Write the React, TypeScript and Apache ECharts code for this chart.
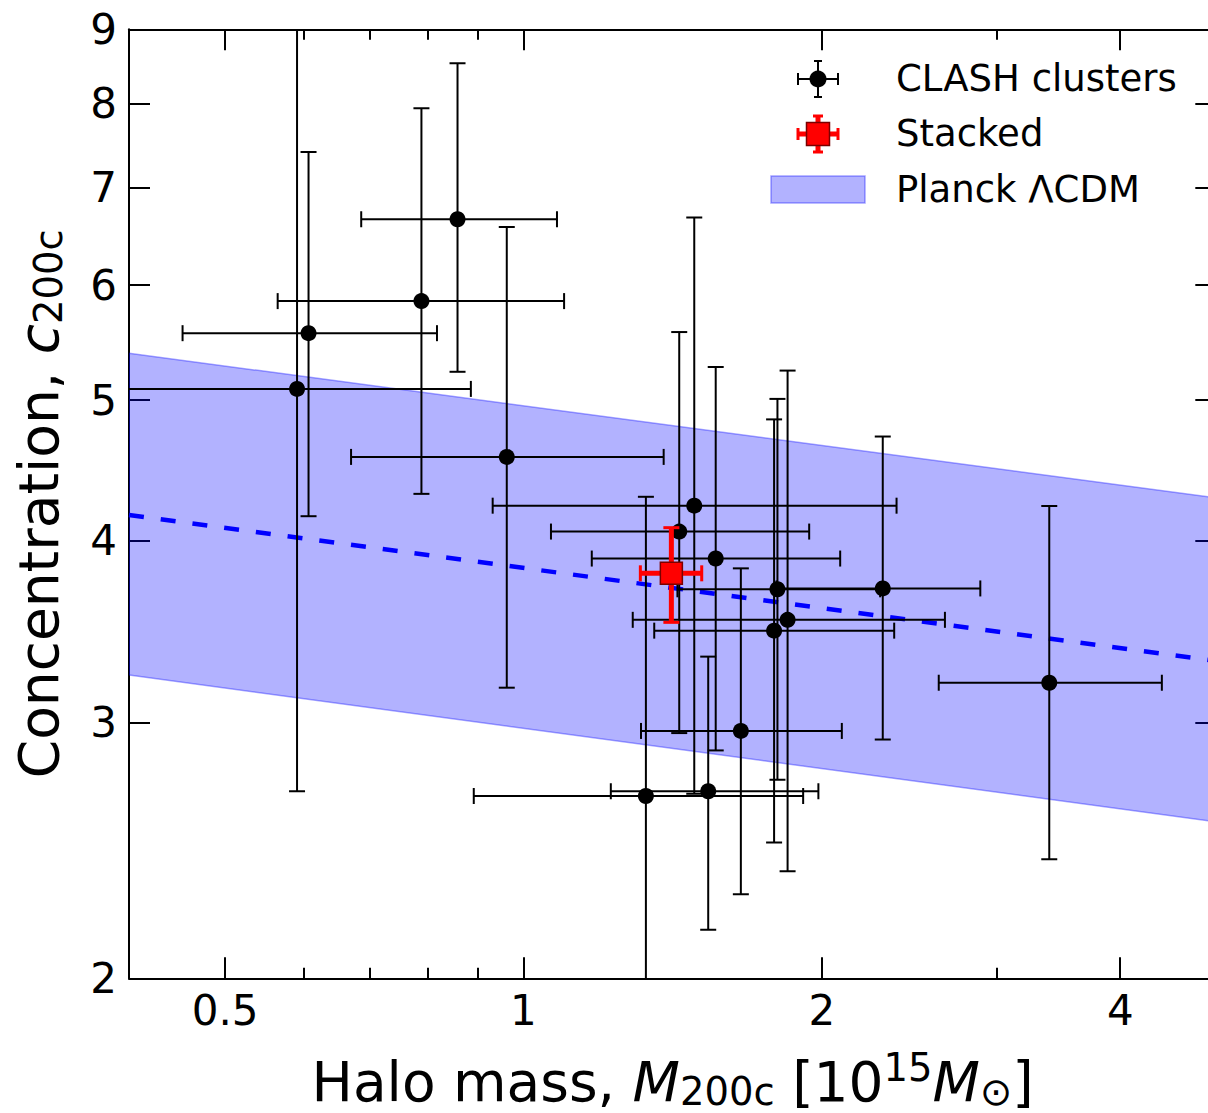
import React, { useEffect, useRef } from "react";
import * as echarts from "echarts";

// ---- axes ----
const X_MIN = 0.4;
const X_MAX = 5;
const Y_MIN = 2;
const Y_MAX = 9;
const xMajorTicks = [0.5, 1, 2, 4];
const xMinorTicks = [0.6, 0.7, 0.8, 0.9, 3];
const yTicks = [2, 3, 4, 5, 6, 7, 8, 9];

// ---- CLASH clusters (mass in 1e15 Msun, concentration c200c) ----
const clashMass = [0.591, 0.607, 0.789, 0.858, 0.962, 1.487, 1.436, 1.563, 1.804, 2.304, 1.847, 1.79, 1.657, 1.329, 1.536, 3.392];
const clashConc = [5.09, 5.56, 5.85, 6.66, 4.57, 4.23, 4.06, 3.89, 3.705, 3.71, 3.53, 3.47, 2.96, 2.67, 2.69, 3.195];
const clashMassLo = [0.38, 0.453, 0.565, 0.686, 0.67, 0.931, 1.066, 1.172, 1.43, 1.8, 1.289, 1.355, 1.314, 0.891, 1.225, 2.624];
const clashMassHi = [0.885, 0.818, 1.099, 1.081, 1.385, 2.379, 1.942, 2.087, 2.29, 2.89, 2.662, 2.366, 2.095, 1.915, 1.984, 4.406];
const clashConcLo = [2.69, 4.16, 4.31, 5.23, 3.17, 2.68, 2.95, 2.87, 2.74, 2.92, 2.37, 2.48, 2.285, 1.8, 2.16, 2.415];
const clashConcHi = [10.5, 7.41, 7.94, 8.53, 6.58, 6.68, 5.57, 5.27, 5.01, 4.72, 5.24, 4.85, 3.83, 4.29, 3.33, 4.228];

// ---- Stacked ----
const stackedMass = [1.41];
const stackedConc = [3.8];
const stackedMassLo = [1.312];
const stackedMassHi = [1.513];
const stackedConcLo = [3.516];
const stackedConcHi = [4.085];

// ---- Planck LCDM band ----
const planckMass = [0.4, 5];
const planckMedian = [4.168, 3.307];
const planckLower = [3.234, 2.563];
const planckUpper = [5.386, 4.283];

const FONT = '"DejaVu Sans", "Noto Sans", sans-serif';

function errorBarRenderer(color: string, lw: number, capLw: number, cap: number) {
  return (params: any, api: any) => {
    const x = api.value(0);
    const y = api.value(1);
    const pl = api.coord([api.value(2), y]);
    const pr = api.coord([api.value(3), y]);
    const pb = api.coord([x, api.value(4)]);
    const pt = api.coord([x, api.value(5)]);
    const st = { stroke: color, lineWidth: lw, fill: null };
    const cs = { stroke: color, lineWidth: capLw, fill: null };
    return {
      type: "group",
      children: [
        { type: "line", shape: { x1: pl[0], y1: pl[1], x2: pr[0], y2: pr[1] }, style: st },
        { type: "line", shape: { x1: pb[0], y1: pb[1], x2: pt[0], y2: pt[1] }, style: st },
        { type: "line", shape: { x1: pl[0], y1: pl[1] - cap, x2: pl[0], y2: pl[1] + cap }, style: cs },
        { type: "line", shape: { x1: pr[0], y1: pr[1] - cap, x2: pr[0], y2: pr[1] + cap }, style: cs },
        { type: "line", shape: { x1: pb[0] - cap, y1: pb[1], x2: pb[0] + cap, y2: pb[1] }, style: cs },
        { type: "line", shape: { x1: pt[0] - cap, y1: pt[1], x2: pt[0] + cap, y2: pt[1] }, style: cs },
      ],
    };
  };
}

export default function App() {
  const ref = useRef<HTMLDivElement>(null);

  useEffect(() => {
    if (!ref.current) return;
    const chart = echarts.init(ref.current, null, { renderer: "svg" });

    const clashData = clashMass.map((m, i) => [m, clashConc[i], clashMassLo[i], clashMassHi[i], clashConcLo[i], clashConcHi[i]]);
    const stackedData = stackedMass.map((m, i) => [m, stackedConc[i], stackedMassLo[i], stackedMassHi[i], stackedConcLo[i], stackedConcHi[i]]);
    const bandData = planckMass.map((m, i) => [m, planckMedian[i], planckLower[i], planckUpper[i]]);

    const labelFmt = (v: any) => String(+(+v).toPrecision(3));
    const axisLineStyle = { color: "#000", width: 2 };

    const xBase = {
      type: "log",
      logBase: 2,
      min: X_MIN,
      max: X_MAX,
      gridIndex: 0,
      splitLine: { show: false },
      minorTick: { show: false },
      minorSplitLine: { show: false },
      nameMoveOverlap: false,
    };
    const yBase = {
      type: "log",
      logBase: 10,
      min: Y_MIN,
      max: Y_MAX,
      gridIndex: 0,
      splitLine: { show: false },
      minorTick: { show: false },
      minorSplitLine: { show: false },
      nameMoveOverlap: false,
    };

    const richBase = {
      r: { fontSize: 55, fontFamily: FONT, color: "#000" },
      i: { fontSize: 55, fontFamily: FONT, fontStyle: "italic", color: "#000" },
      sub: { fontSize: 38.5, fontFamily: FONT, color: "#000", padding: [19, 0, 0, 0] },
      sup: { fontSize: 38.5, fontFamily: FONT, color: "#000", padding: [0, 0, 28, 0] },
    };

    const option: any = {
      animation: false,
      backgroundColor: "#fff",
      grid: {
        left: 129,
        right: -8.3,
        top: 29.3,
        bottom: 134.7,
        containLabel: false,
        outerBoundsMode: "none",
      },
      xAxis: [
        {
          ...xBase,
          position: "bottom",
          name: "{r|Halo mass, }{i|M}{sub|200c}{r| [10}{sup|15}{i|M}{sub|⊙}{r|]}",
          nameLocation: "middle",
          nameGap: 70,
          nameTextStyle: { rich: richBase, fontSize: 55, fontFamily: FONT, color: "#000" },
          axisLine: { show: true, lineStyle: axisLineStyle },
          axisTick: { show: true, inside: true, length: 21, customValues: xMajorTicks, lineStyle: axisLineStyle },
          axisLabel: { show: true, customValues: xMajorTicks, formatter: labelFmt, fontSize: 42, fontFamily: FONT, color: "#000", margin: 11 },
        },
        {
          ...xBase,
          position: "bottom",
          axisLine: { show: false },
          axisTick: { show: true, inside: true, length: 10.5, customValues: xMinorTicks, lineStyle: axisLineStyle },
          axisLabel: { show: false },
        },
        {
          ...xBase,
          position: "top",
          axisLine: { show: true, lineStyle: axisLineStyle },
          axisTick: { show: true, inside: true, length: 21, customValues: xMajorTicks, lineStyle: axisLineStyle },
          axisLabel: { show: false },
        },
        {
          ...xBase,
          position: "top",
          axisLine: { show: false },
          axisTick: { show: true, inside: true, length: 10.5, customValues: xMinorTicks, lineStyle: axisLineStyle },
          axisLabel: { show: false },
        },
      ],
      yAxis: [
        {
          ...yBase,
          position: "left",
          name: "{r|Concentration, }{i|c}{sub|200c}",
          nameLocation: "middle",
          nameGap: 61,
          nameTextStyle: { rich: richBase, fontSize: 55, fontFamily: FONT, color: "#000" },
          axisLine: { show: true, lineStyle: axisLineStyle },
          axisTick: { show: true, inside: true, length: 21, customValues: yTicks, lineStyle: axisLineStyle },
          axisLabel: { show: true, customValues: yTicks, formatter: labelFmt, fontSize: 42, fontFamily: FONT, color: "#000", margin: 12 },
        },
        {
          ...yBase,
          position: "right",
          axisLine: { show: true, lineStyle: axisLineStyle },
          axisTick: { show: true, inside: true, length: 21, customValues: yTicks, lineStyle: axisLineStyle },
          axisLabel: { show: false },
        },
      ],
      series: [
        {
          name: "Planck ΛCDM",
          type: "custom",
          xAxisIndex: 0,
          yAxisIndex: 0,
          clip: true,
          silent: true,
          z: 1,
          dimensions: ["mass", "median", "lower", "upper"],
          encode: { x: 0, y: 1 },
          data: bandData,
          renderItem: (params: any, api: any) => {
            if (params.dataIndex !== 0) return null;
            const pts: number[][] = [];
            for (let i = 0; i < planckMass.length; i++) pts.push(api.coord([planckMass[i], planckUpper[i]]));
            for (let i = planckMass.length - 1; i >= 0; i--) pts.push(api.coord([planckMass[i], planckLower[i]]));
            return {
              type: "polygon",
              shape: { points: pts },
              style: { fill: "rgba(0,0,255,0.3)", stroke: "rgba(0,0,255,0.35)", lineWidth: 1.5 },
            };
          },
        },
        {
          name: "Planck median",
          type: "line",
          xAxisIndex: 0,
          yAxisIndex: 0,
          z: 2,
          symbol: "none",
          silent: true,
          data: planckMass.map((m, i) => [m, planckMedian[i]]),
          lineStyle: { color: "#0000ff", width: 4.5, type: [15, 17], cap: "butt" },
        },
        {
          name: "CLASH errors",
          type: "custom",
          xAxisIndex: 0,
          yAxisIndex: 0,
          clip: true,
          silent: true,
          z: 3,
          dimensions: ["mass", "conc", "mlo", "mhi", "clo", "chi"],
          encode: { x: 0, y: 1 },
          data: clashData,
          renderItem: errorBarRenderer("#000", 2, 2, 8),
        },
        {
          name: "CLASH clusters",
          type: "scatter",
          xAxisIndex: 0,
          yAxisIndex: 0,
          z: 4,
          symbol: "circle",
          symbolSize: 16,
          itemStyle: { color: "#000", opacity: 1 },
          data: clashMass.map((m, i) => [m, clashConc[i]]),
        },
        {
          name: "Stacked errors",
          type: "custom",
          xAxisIndex: 0,
          yAxisIndex: 0,
          clip: true,
          silent: true,
          z: 5,
          dimensions: ["mass", "conc", "mlo", "mhi", "clo", "chi"],
          encode: { x: 0, y: 1 },
          data: stackedData,
          renderItem: errorBarRenderer("#ff0000", 5, 3, 8),
        },
        {
          name: "Stacked",
          type: "scatter",
          xAxisIndex: 0,
          yAxisIndex: 0,
          z: 6,
          symbol: "rect",
          symbolSize: 22,
          itemStyle: { color: "#ff0000", borderColor: "#7a0000", borderWidth: 1.5, opacity: 1 },
          data: stackedMass.map((m, i) => [m, stackedConc[i]]),
        },
      ],
      graphic: [
        // CLASH legend symbol
        { type: "line", shape: { x1: 798, y1: 79, x2: 838, y2: 79 }, style: { stroke: "#000", lineWidth: 2 }, z: 10 },
        { type: "line", shape: { x1: 818, y1: 61, x2: 818, y2: 97 }, style: { stroke: "#000", lineWidth: 2 }, z: 10 },
        { type: "line", shape: { x1: 798, y1: 73, x2: 798, y2: 85 }, style: { stroke: "#000", lineWidth: 2 }, z: 10 },
        { type: "line", shape: { x1: 838, y1: 73, x2: 838, y2: 85 }, style: { stroke: "#000", lineWidth: 2 }, z: 10 },
        { type: "line", shape: { x1: 814, y1: 61, x2: 822, y2: 61 }, style: { stroke: "#000", lineWidth: 2 }, z: 10 },
        { type: "line", shape: { x1: 814, y1: 97, x2: 822, y2: 97 }, style: { stroke: "#000", lineWidth: 2 }, z: 10 },
        { type: "circle", shape: { cx: 818, cy: 79, r: 8.5 }, style: { fill: "#000" }, z: 11 },
        // Stacked legend symbol
        { type: "line", shape: { x1: 798, y1: 134, x2: 838, y2: 134 }, style: { stroke: "#ff0000", lineWidth: 5 }, z: 10 },
        { type: "line", shape: { x1: 818, y1: 116, x2: 818, y2: 152 }, style: { stroke: "#ff0000", lineWidth: 5 }, z: 10 },
        { type: "line", shape: { x1: 798, y1: 128, x2: 798, y2: 140 }, style: { stroke: "#ff0000", lineWidth: 3 }, z: 10 },
        { type: "line", shape: { x1: 838, y1: 128, x2: 838, y2: 140 }, style: { stroke: "#ff0000", lineWidth: 3 }, z: 10 },
        { type: "line", shape: { x1: 813, y1: 116, x2: 823, y2: 116 }, style: { stroke: "#ff0000", lineWidth: 3 }, z: 10 },
        { type: "line", shape: { x1: 813, y1: 152, x2: 823, y2: 152 }, style: { stroke: "#ff0000", lineWidth: 3 }, z: 10 },
        { type: "rect", shape: { x: 806.5, y: 122.5, width: 23, height: 23 }, style: { fill: "#ff0000", stroke: "#7a0000", lineWidth: 1.5 }, z: 11 },
        // Planck legend patch
        { type: "rect", shape: { x: 771, y: 176, width: 94, height: 27 }, style: { fill: "rgba(0,0,255,0.3)", stroke: "rgba(0,0,255,0.35)", lineWidth: 1.5 }, z: 10 },
        // legend texts
        { type: "text", x: 896, y: 78.5, style: { text: "CLASH clusters", fontSize: 37, fontFamily: FONT, fill: "#000", align: "left", verticalAlign: "middle" }, z: 10 },
        { type: "text", x: 896, y: 133.5, style: { text: "Stacked", fontSize: 37, fontFamily: FONT, fill: "#000", align: "left", verticalAlign: "middle" }, z: 10 },
        { type: "text", x: 896, y: 189.5, style: { text: "Planck ΛCDM", fontSize: 37, fontFamily: FONT, fill: "#000", align: "left", verticalAlign: "middle" }, z: 10 },
      ],
    };

    chart.setOption(option);
    return () => {
      chart.dispose();
    };
  }, []);

  return (
    <div
      ref={ref}
      style={{ position: "fixed", left: 0, top: 0, width: 1208, height: 1113, background: "#fff" }}
    />
  );
}
